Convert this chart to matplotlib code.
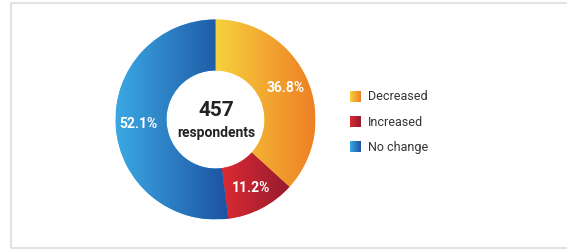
import numpy as np
import matplotlib.pyplot as plt
from matplotlib.colors import LinearSegmentedColormap
from matplotlib.patches import Rectangle

labels = ["Decreased", "Increased", "No change"]
shares = [36.8, 11.2, 52.1]
respondents = 457

# gradient ends, left -> right
col_left = ["#f7d23d", "#dc2a33", "#3ba8e3"]
col_right = ["#ee7f25", "#951b2e", "#1c52a1"]

plt.rcParams['font.family'] = ['Roboto', 'DejaVu Sans']

fig = plt.figure(figsize=(5.67, 2.5), dpi=100)
ax = fig.add_axes([0, 0, 1, 1])

cx, cy = 215.5, 130.5
wedges, _, autotexts = ax.pie(shares, radius=100, center=(cx, cy), startangle=90,
                              counterclock=False, autopct='%.1f', pctdistance=0.77,
                              wedgeprops=dict(width=51, linewidth=0),
                              textprops=dict(color='white', fontsize=10, fontweight='bold'),
                              frame=True, normalize=True)

grad = np.linspace(0, 1, 256).reshape(1, -1)
for w, c0, c1, t, s in zip(wedges, col_left, col_right, autotexts, shares):
    w.set_facecolor(c0)
    bb = w.get_path().get_extents()
    cmap = LinearSegmentedColormap.from_list('g', [c0, c1])
    im = ax.imshow(grad, extent=(bb.x0, bb.x1, bb.y0, bb.y1), cmap=cmap,
                   aspect='auto', zorder=1.5, interpolation='bilinear')
    im.set_clip_path(w)
    t.set_text(f"{s}%")
    t.set_zorder(3)

ax.text(cx + 1, 139, str(respondents), ha='center', va='center',
        fontsize=15, fontweight='bold', color='#222222')
ax.text(cx + 1, 117.5, "respondents", ha='center', va='center',
        fontsize=10, fontweight='bold', color='#222222')

# legend
for i, (lab, c0, c1) in enumerate(zip(labels, col_left, col_right)):
    yc = 153 - i * 25
    cmap = LinearSegmentedColormap.from_list('g', [c0, c1])
    ax.imshow(grad, extent=(350, 361, yc - 5.5, yc + 5.5), cmap=cmap,
              aspect='auto', zorder=2)
    ax.text(368, yc, lab, ha='left', va='center', fontsize=9, color='#333333')

ax.add_patch(Rectangle((11, 2), 600, 245, fill=False, edgecolor='#e3e3e3',
                       linewidth=1.5, clip_on=False))

ax.set_xlim(0, 567)
ax.set_ylim(0, 250)
ax.set_aspect('equal')
ax.axis('off')

fig.savefig('out.png', dpi=100)
